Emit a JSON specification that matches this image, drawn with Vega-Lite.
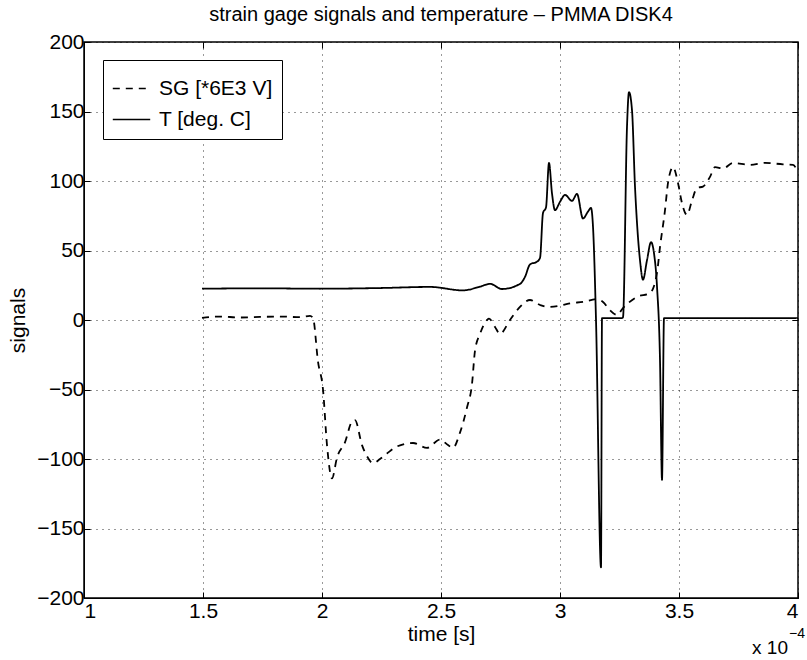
{
  "$schema": "https://vega.github.io/schema/vega-lite/v6.json",
  "width": 714,
  "height": 556,
  "autosize": {"type": "none"},
  "padding": {"left": 84, "top": 42, "right": 9, "bottom": 62},
  "background": "white",
  "title": {"text": "strain gage signals and temperature – PMMA DISK4", "font": "Liberation Sans", "fontSize": 20, "fontWeight": "normal", "color": "black", "offset": 6},
  "resolve": {"axis": {"x": "independent", "y": "independent"}},
  "config": {
    "view": {"stroke": "black", "strokeWidth": 1.5},
    "axis": {"labelFont": "Liberation Sans", "titleFont": "Liberation Sans", "labelFontSize": 21, "titleFontSize": 21, "titleFontWeight": "normal", "labelColor": "black", "titleColor": "black", "domainColor": "black", "tickColor": "black", "gridColor": "black", "gridDash": [1, 5], "gridWidth": 1, "gridOpacity": 0.8, "tickSize": -6, "tickWidth": 1, "labelPadding": 10}
  },
  "datasets": {
    "sig": [
      {"t": 1.4958, "v": 1.5, "s": "SG [*6E3 V]"},
      {"t": 1.5714, "v": 2.5, "s": "SG [*6E3 V]"},
      {"t": 1.6555, "v": 1.8, "s": "SG [*6E3 V]"},
      {"t": 1.7395, "v": 2.2, "s": "SG [*6E3 V]"},
      {"t": 1.8235, "v": 2.5, "s": "SG [*6E3 V]"},
      {"t": 1.9076, "v": 2.0, "s": "SG [*6E3 V]"},
      {"t": 1.9496, "v": 3.0, "s": "SG [*6E3 V]"},
      {"t": 1.9622, "v": 1.5, "s": "SG [*6E3 V]"},
      {"t": 1.9832, "v": -30, "s": "SG [*6E3 V]"},
      {"t": 2.0042, "v": -50, "s": "SG [*6E3 V]"},
      {"t": 2.021, "v": -90, "s": "SG [*6E3 V]"},
      {"t": 2.042, "v": -114, "s": "SG [*6E3 V]"},
      {"t": 2.063, "v": -99, "s": "SG [*6E3 V]"},
      {"t": 2.0966, "v": -88, "s": "SG [*6E3 V]"},
      {"t": 2.1261, "v": -73, "s": "SG [*6E3 V]"},
      {"t": 2.1387, "v": -72, "s": "SG [*6E3 V]"},
      {"t": 2.1681, "v": -90, "s": "SG [*6E3 V]"},
      {"t": 2.1891, "v": -98, "s": "SG [*6E3 V]"},
      {"t": 2.2143, "v": -103, "s": "SG [*6E3 V]"},
      {"t": 2.2437, "v": -100, "s": "SG [*6E3 V]"},
      {"t": 2.2731, "v": -96, "s": "SG [*6E3 V]"},
      {"t": 2.3151, "v": -91, "s": "SG [*6E3 V]"},
      {"t": 2.3824, "v": -88.5, "s": "SG [*6E3 V]"},
      {"t": 2.4412, "v": -92, "s": "SG [*6E3 V]"},
      {"t": 2.4958, "v": -86, "s": "SG [*6E3 V]"},
      {"t": 2.5294, "v": -90, "s": "SG [*6E3 V]"},
      {"t": 2.5504, "v": -92, "s": "SG [*6E3 V]"},
      {"t": 2.5798, "v": -81, "s": "SG [*6E3 V]"},
      {"t": 2.6092, "v": -63, "s": "SG [*6E3 V]"},
      {"t": 2.6303, "v": -46, "s": "SG [*6E3 V]"},
      {"t": 2.6429, "v": -22, "s": "SG [*6E3 V]"},
      {"t": 2.6639, "v": -10, "s": "SG [*6E3 V]"},
      {"t": 2.6933, "v": 0, "s": "SG [*6E3 V]"},
      {"t": 2.7017, "v": 1, "s": "SG [*6E3 V]"},
      {"t": 2.7269, "v": -5, "s": "SG [*6E3 V]"},
      {"t": 2.7479, "v": -10, "s": "SG [*6E3 V]"},
      {"t": 2.7899, "v": 0, "s": "SG [*6E3 V]"},
      {"t": 2.8319, "v": 9.4, "s": "SG [*6E3 V]"},
      {"t": 2.8739, "v": 14.4, "s": "SG [*6E3 V]"},
      {"t": 2.916, "v": 10.8, "s": "SG [*6E3 V]"},
      {"t": 2.9496, "v": 9.4, "s": "SG [*6E3 V]"},
      {"t": 3.0126, "v": 10.8, "s": "SG [*6E3 V]"},
      {"t": 3.042, "v": 12, "s": "SG [*6E3 V]"},
      {"t": 3.0966, "v": 13, "s": "SG [*6E3 V]"},
      {"t": 3.1555, "v": 15, "s": "SG [*6E3 V]"},
      {"t": 3.1807, "v": 13, "s": "SG [*6E3 V]"},
      {"t": 3.2101, "v": 7, "s": "SG [*6E3 V]"},
      {"t": 3.2395, "v": 3.6, "s": "SG [*6E3 V]"},
      {"t": 3.2647, "v": 8.6, "s": "SG [*6E3 V]"},
      {"t": 3.3235, "v": 16.6, "s": "SG [*6E3 V]"},
      {"t": 3.3782, "v": 19.4, "s": "SG [*6E3 V]"},
      {"t": 3.4076, "v": 34, "s": "SG [*6E3 V]"},
      {"t": 3.4202, "v": 52.6, "s": "SG [*6E3 V]"},
      {"t": 3.4412, "v": 79, "s": "SG [*6E3 V]"},
      {"t": 3.4538, "v": 98.6, "s": "SG [*6E3 V]"},
      {"t": 3.4748, "v": 110, "s": "SG [*6E3 V]"},
      {"t": 3.4958, "v": 98.6, "s": "SG [*6E3 V]"},
      {"t": 3.5126, "v": 84, "s": "SG [*6E3 V]"},
      {"t": 3.5336, "v": 75.6, "s": "SG [*6E3 V]"},
      {"t": 3.5546, "v": 86, "s": "SG [*6E3 V]"},
      {"t": 3.5756, "v": 95, "s": "SG [*6E3 V]"},
      {"t": 3.6008, "v": 96, "s": "SG [*6E3 V]"},
      {"t": 3.6303, "v": 103, "s": "SG [*6E3 V]"},
      {"t": 3.6513, "v": 110, "s": "SG [*6E3 V]"},
      {"t": 3.6849, "v": 109, "s": "SG [*6E3 V]"},
      {"t": 3.7269, "v": 113, "s": "SG [*6E3 V]"},
      {"t": 3.7983, "v": 111.6, "s": "SG [*6E3 V]"},
      {"t": 3.8613, "v": 113, "s": "SG [*6E3 V]"},
      {"t": 3.937, "v": 112, "s": "SG [*6E3 V]"},
      {"t": 3.979, "v": 111.6, "s": "SG [*6E3 V]"},
      {"t": 4.0, "v": 106, "s": "SG [*6E3 V]"},
      {"t": 1.4958, "v": 22.5, "s": "T [deg. C]"},
      {"t": 1.7395, "v": 22.8, "s": "T [deg. C]"},
      {"t": 1.9916, "v": 22.5, "s": "T [deg. C]"},
      {"t": 2.2437, "v": 23, "s": "T [deg. C]"},
      {"t": 2.4538, "v": 23.8, "s": "T [deg. C]"},
      {"t": 2.5924, "v": 21.3, "s": "T [deg. C]"},
      {"t": 2.6639, "v": 24, "s": "T [deg. C]"},
      {"t": 2.7059, "v": 26, "s": "T [deg. C]"},
      {"t": 2.7563, "v": 22.3, "s": "T [deg. C]"},
      {"t": 2.8319, "v": 26, "s": "T [deg. C]"},
      {"t": 2.8529, "v": 31, "s": "T [deg. C]"},
      {"t": 2.8739, "v": 40, "s": "T [deg. C]"},
      {"t": 2.9034, "v": 42, "s": "T [deg. C]"},
      {"t": 2.916, "v": 44.6, "s": "T [deg. C]"},
      {"t": 2.9286, "v": 77, "s": "T [deg. C]"},
      {"t": 2.9412, "v": 81, "s": "T [deg. C]"},
      {"t": 2.9538, "v": 113, "s": "T [deg. C]"},
      {"t": 2.9664, "v": 91, "s": "T [deg. C]"},
      {"t": 2.979, "v": 79, "s": "T [deg. C]"},
      {"t": 3.0, "v": 85, "s": "T [deg. C]"},
      {"t": 3.021, "v": 90, "s": "T [deg. C]"},
      {"t": 3.0504, "v": 85.7, "s": "T [deg. C]"},
      {"t": 3.0714, "v": 90.7, "s": "T [deg. C]"},
      {"t": 3.0966, "v": 73, "s": "T [deg. C]"},
      {"t": 3.1176, "v": 78, "s": "T [deg. C]"},
      {"t": 3.1303, "v": 80.6, "s": "T [deg. C]"},
      {"t": 3.1387, "v": 67, "s": "T [deg. C]"},
      {"t": 3.1513, "v": 0, "s": "T [deg. C]"},
      {"t": 3.1723, "v": -178, "s": "T [deg. C]"},
      {"t": 3.1765, "v": 1.4, "s": "T [deg. C]"},
      {"t": 3.2605, "v": 1.4, "s": "T [deg. C]"},
      {"t": 3.2647, "v": 2, "s": "T [deg. C]"},
      {"t": 3.2815, "v": 139, "s": "T [deg. C]"},
      {"t": 3.2899, "v": 164, "s": "T [deg. C]"},
      {"t": 3.3025, "v": 151, "s": "T [deg. C]"},
      {"t": 3.3151, "v": 96, "s": "T [deg. C]"},
      {"t": 3.3235, "v": 70, "s": "T [deg. C]"},
      {"t": 3.3361, "v": 43, "s": "T [deg. C]"},
      {"t": 3.3487, "v": 29, "s": "T [deg. C]"},
      {"t": 3.3655, "v": 43, "s": "T [deg. C]"},
      {"t": 3.3824, "v": 56, "s": "T [deg. C]"},
      {"t": 3.395, "v": 48, "s": "T [deg. C]"},
      {"t": 3.4076, "v": 24, "s": "T [deg. C]"},
      {"t": 3.4202, "v": -29, "s": "T [deg. C]"},
      {"t": 3.4286, "v": -115, "s": "T [deg. C]"},
      {"t": 3.437, "v": 1.4, "s": "T [deg. C]"},
      {"t": 4.0, "v": 1.4, "s": "T [deg. C]"}
    ],
    "note": [{"t": 4.0, "v": -200}]
  },
  "layer": [
    {
      "data": {"name": "sig"},
      "mark": {"type": "line", "color": "black", "strokeWidth": 1.8, "interpolate": "monotone", "clip": true},
      "encoding": {
        "x": {"field": "t", "type": "quantitative", "scale": {"domain": [1, 4], "nice": false, "zero": false}, "axis": {"title": "time [s]", "values": [1, 1.5, 2, 2.5, 3, 3.5, 4], "format": "~g", "titlePadding": 2, "labelPadding": 8}},
        "y": {"field": "v", "type": "quantitative", "scale": {"domain": [-200, 200], "nice": false, "zero": false}, "axis": {"title": "signals", "values": [-200, -150, -100, -50, 0, 50, 100, 150, 200], "format": "d", "titlePadding": 8, "labelPadding": 6}},
        "strokeDash": {"field": "s", "type": "nominal", "scale": {"domain": ["SG [*6E3 V]", "T [deg. C]"], "range": [[7, 6], [1, 0]]},
          "legend": {"title": null, "orient": "none", "legendX": 19, "legendY": 18, "strokeColor": "black", "fillColor": "white", "padding": 9, "symbolType": "stroke", "symbolSize": 1400, "symbolStrokeWidth": 1.5, "symbolStrokeColor": "black", "labelFont": "Liberation Sans", "labelFontSize": 21, "labelColor": "black", "labelOffset": 8, "rowPadding": 1}}
      }
    },
    {
      "data": {"name": "note"},
      "mark": {"type": "point", "opacity": 0},
      "encoding": {
        "x": {"field": "t", "type": "quantitative", "axis": {"orient": "top", "values": [1, 1.5, 2, 2.5, 3, 3.5, 4], "labels": false, "title": null, "grid": false, "domain": false}},
        "y": {"field": "v", "type": "quantitative", "axis": {"orient": "right", "values": [-200, -150, -100, -50, 0, 50, 100, 150, 200], "labels": false, "title": null, "grid": false, "domain": false}}
      }
    },
    {
      "data": {"name": "note"},
      "mark": {"type": "text", "text": "x 10", "font": "Liberation Sans", "fontSize": 19, "align": "right", "baseline": "middle", "dx": -10, "dy": 50, "color": "black"},
      "encoding": {"x": {"field": "t", "type": "quantitative", "axis": null}, "y": {"field": "v", "type": "quantitative", "axis": null}}
    },
    {
      "data": {"name": "note"},
      "mark": {"type": "text", "text": "−4", "font": "Liberation Sans", "fontSize": 14, "align": "left", "baseline": "middle", "dx": -9, "dy": 36, "color": "black"},
      "encoding": {"x": {"field": "t", "type": "quantitative", "axis": null}, "y": {"field": "v", "type": "quantitative", "axis": null}}
    }
  ]
}
